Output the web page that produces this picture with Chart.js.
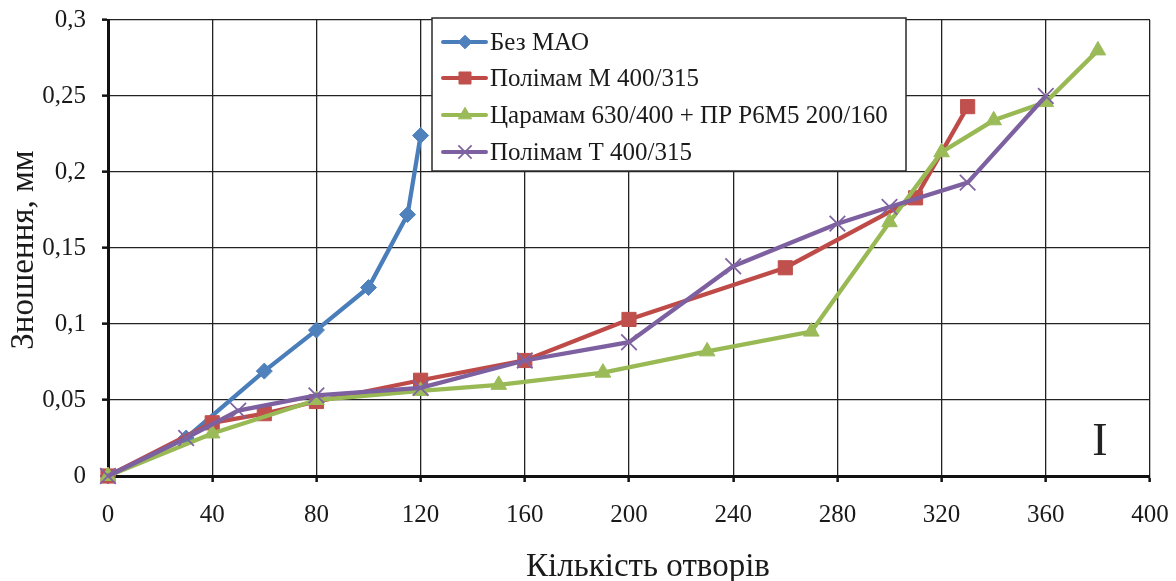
<!DOCTYPE html>
<html>
<head>
<meta charset="utf-8">
<script src="https://cdn.jsdelivr.net/npm/chart.js@4/dist/chart.umd.min.js"></script>
<style>
  html, body { margin: 0; padding: 0; background: #fff; }
  #wrap { width: 1176px; height: 581px; }
</style>
</head>
<body>
<div id="wrap"><canvas id="c" width="1176" height="581"></canvas></div>
<script>
// Wear vs. number of drilled holes for four tool variants
const seriesNames = [
  'Без МАО',
  'Полімам М 400/315',
  'Царамам 630/400 + ПР Р6М5 200/160',
  'Полімам Т 400/315'
];

const xBez = [0, 30, 60, 80, 100, 115, 120];
const yBez = [0, 0.025, 0.069, 0.096, 0.124, 0.172, 0.224];

const xPolM = [0, 40, 60, 80, 120, 160, 200, 260, 310, 330];
const yPolM = [0, 0.035, 0.041, 0.049, 0.063, 0.076, 0.103, 0.137, 0.183, 0.243];

const xTsar = [0, 40, 80, 120, 150, 190, 230, 270, 300, 320, 340, 360, 380];
const yTsar = [0, 0.028, 0.050, 0.056, 0.060, 0.068, 0.082, 0.095, 0.167, 0.213, 0.234, 0.246, 0.280];

const xPolT = [0, 30, 50, 80, 120, 160, 200, 240, 280, 300, 330, 360];
const yPolT = [0, 0.025, 0.043, 0.053, 0.058, 0.076, 0.088, 0.138, 0.166, 0.177, 0.193, 0.250];

const xTickLabels = ['0', '40', '80', '120', '160', '200', '240', '280', '320', '360', '400'];
const yTickLabels = ['0', '0,05', '0,1', '0,15', '0,2', '0,25', '0,3'];

const xTitle = 'Кількість отворів';
const yTitle = 'Зношення, мм';

const SERIF = '"Liberation Serif", "Times New Roman", serif';
const INK = '#1a1a1a';

function pairs(xs, ys) {
  return xs.map((x, i) => ({ x: x, y: ys[i] }));
}

function series(label, xs, ys, line, fill, style, radius, bw, order) {
  return {
    label: label,
    data: pairs(xs, ys),
    borderColor: line,
    backgroundColor: fill,
    borderWidth: 4.3,
    pointStyle: style,
    pointRadius: radius,
    pointHoverRadius: radius,
    pointBackgroundColor: fill,
    pointBorderColor: fill,
    pointBorderWidth: bw,
    tension: 0,
    clip: false,
    order: order
  };
}

// Keep the plot frame fixed: scale box size set here, edge label overflow ignored
function fixBox(size) {
  return function (scale) {
    if (scale.isHorizontal()) scale.height = size; else scale.width = size;
    scale.paddingTop = 0;
    scale.paddingBottom = 0;
    scale.paddingLeft = 0;
    scale.paddingRight = 0;
  };
}

// Framed legend placed over the upper part of the plot
const boxLegend = {
  id: 'boxLegend',
  afterDatasetsDraw(chart) {
    const ctx = chart.ctx;
    const L = 432, T = 18, R = 906, B = 171;
    const rows = [42, 78, 115, 152];
    ctx.save();
    ctx.fillStyle = '#fff';
    ctx.fillRect(L, T, R - L, B - T);
    ctx.strokeStyle = '#2a2a2a';
    ctx.lineWidth = 1.5;
    ctx.strokeRect(L, T, R - L, B - T);
    chart.data.datasets.forEach((ds, i) => {
      const y = rows[i];
      ctx.strokeStyle = ds.borderColor;
      ctx.lineWidth = 4;
      ctx.lineCap = 'round';
      ctx.beginPath();
      ctx.moveTo(443, y);
      ctx.lineTo(486, y);
      ctx.stroke();
      ctx.lineCap = 'butt';
      ctx.fillStyle = ds.pointBackgroundColor;
      ctx.strokeStyle = ds.pointBorderColor;
      ctx.lineWidth = ds.pointBorderWidth;
      Chart.helpers.drawPoint(ctx, {
        pointStyle: ds.pointStyle,
        radius: ds.pointRadius * 0.85,
        rotation: 0,
        borderWidth: ds.pointBorderWidth
      }, 465, y);
      ctx.fillStyle = INK;
      ctx.font = '25px ' + SERIF;
      ctx.textAlign = 'left';
      ctx.textBaseline = 'middle';
      ctx.fillText(ds.label, 490, y + 1);
    });
    ctx.restore();
  }
};

// Axis titles and the text-cursor style glyph in the lower right of the plot
const extraText = {
  id: 'extraText',
  afterDraw(chart) {
    const ctx = chart.ctx;
    ctx.save();
    ctx.fillStyle = INK;
    ctx.font = '33px ' + SERIF;
    ctx.textAlign = 'center';
    ctx.textBaseline = 'alphabetic';
    ctx.fillText(xTitle, 648, 576);

    ctx.save();
    ctx.translate(33, 250);
    ctx.rotate(-Math.PI / 2);
    ctx.fillText(yTitle, 0, 0);
    ctx.restore();

    ctx.fillStyle = '#222';
    ctx.font = '46px ' + SERIF;
    ctx.fillText('I', 1100, 455);
    ctx.restore();
  }
};

new Chart(document.getElementById('c'), {
  type: 'line',
  data: {
    datasets: [
      series(seriesNames[0], xBez, yBez, '#4A7EBB', '#4F81BD', 'rectRot', 8, 1, 4),
      series(seriesNames[1], xPolM, yPolM, '#BE4B48', '#C0504D', 'rect', 10, 1, 3),
      series(seriesNames[2], xTsar, yTsar, '#98B954', '#9BBB59', 'triangle', 9, 1, 2),
      series(seriesNames[3], xPolT, yPolT, '#7D60A0', '#8064A2', 'crossRot', 11, 1.8, 1)
    ]
  },
  options: {
    responsive: false,
    animation: false,
    devicePixelRatio: 1,
    layout: { padding: { left: 0, top: 20, right: 26, bottom: 0 } },
    plugins: {
      legend: { display: false },
      tooltip: { enabled: false }
    },
    scales: {
      x: {
        type: 'linear',
        min: 0,
        max: 400,
        afterFit: fixBox(105),
        afterBuildTicks(scale) {
          scale.ticks = xTickLabels.map(t => ({ value: Number(t) }));
        },
        ticks: {
          autoSkip: false,
          maxRotation: 0,
          padding: 18,
          color: INK,
          font: { family: SERIF, size: 25 },
          callback: (v, i) => xTickLabels[i]
        },
        grid: { color: '#222', lineWidth: 1.3, tickLength: 6, tickWidth: 2.5, tickColor: '#111' },
        border: { color: '#111', width: 3 }
      },
      y: {
        type: 'linear',
        min: 0,
        max: 0.3,
        afterFit: fixBox(108),
        afterBuildTicks(scale) {
          scale.ticks = yTickLabels.map((t, i) => ({ value: i * 0.05 }));
        },
        ticks: {
          autoSkip: false,
          padding: 16,
          color: INK,
          font: { family: SERIF, size: 25 },
          callback: (v, i) => yTickLabels[i]
        },
        grid: { color: '#222', lineWidth: 1.3, tickLength: 6, tickWidth: 2.5, tickColor: '#111' },
        border: { color: '#111', width: 3 }
      }
    }
  },
  plugins: [boxLegend, extraText]
});
</script>
</body>
</html>
